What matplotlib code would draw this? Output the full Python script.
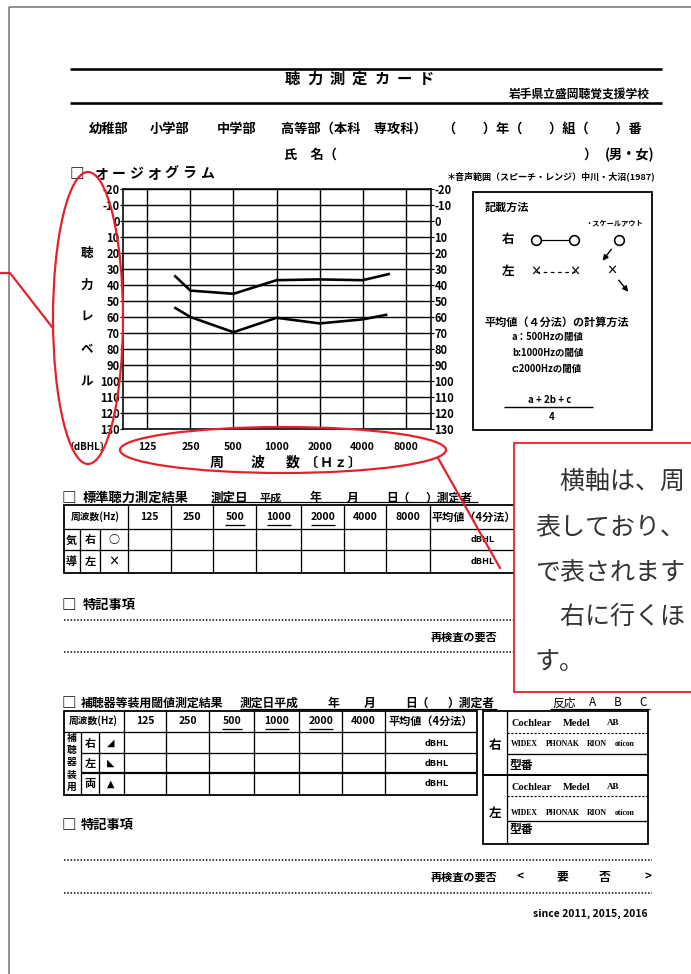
import matplotlib
matplotlib.use('Agg')
import matplotlib.pyplot as plt
from matplotlib.patches import Ellipse, Rectangle
from matplotlib.ticker import NullLocator

plt.rcParams['font.family'] = ['Noto Sans CJK JP', 'DejaVu Sans']

# audiogram data
freq_ticks = [125, 250, 500, 1000, 2000, 4000, 8000]
freq_labels = ['125', '250', '500', '1000', '2000', '4000', '8000']
db_ticks = list(range(-20, 131, 10))
db_labels = [str(v) for v in db_ticks]

# speech range (中川・大沼 1987)
upper_freq = [193, 250, 500, 1000, 2000, 4000, 6200]
upper_db = [34, 43.5, 45.5, 37, 36.5, 37, 33]
lower_freq = [193, 250, 500, 1000, 2000, 4000, 5950]
lower_db = [54, 60, 69.5, 60.5, 64, 61.5, 58.5]

# table headings
table1_freqs = ['125', '250', '500', '1000', '2000', '4000', '8000']
table2_freqs = ['125', '250', '500', '1000', '2000', '4000']
underlined = ['500', '1000', '2000']
callout_lines = ['\u3000横軸は、周', '表しており、', 'で表されます', '\u3000右に行くほ', 'す。']

W, H = 691, 974
fig = plt.figure(figsize=(W / 100, H / 100), dpi=100)
fig.patch.set_facecolor('white')


def lw(p):
    return p * 0.72


# ---- audiogram
ax = fig.add_axes([123 / W, 1 - 429 / H, 308 / W, 240 / H])
ax.set_xscale('log', base=2)
ax.set_xlim(84.5, 12010)
ax.set_ylim(130, -20)
ax.set_xticks(freq_ticks, freq_labels)
ax.xaxis.set_minor_locator(NullLocator())
ax.set_yticks(db_ticks, db_labels)
ax.grid(True, color='k', lw=lw(1.4))
for s in ax.spines.values():
    s.set_linewidth(lw(1.6))
ax.tick_params(axis='x', length=0, pad=9, labelsize=7.5)
ax.tick_params(axis='y', left=True, right=True, labelleft=True, labelright=True,
               length=2, width=lw(1.2), pad=0.5, labelsize=8)
for t in ax.get_xticklabels() + ax.get_yticklabels():
    t.set_fontweight('bold')
ax.plot(upper_freq, upper_db, color='k', lw=lw(2.6), solid_capstyle='butt')
ax.plot(lower_freq, lower_db, color='k', lw=lw(2.6), solid_capstyle='butt')

# ---- form overlay in pixel coordinates
ov = fig.add_axes([0, 0, 1, 1])
ov.set_xlim(0, W)
ov.set_ylim(H, 0)
ov.axis('off')


def txt(x, y, s, size=9, weight='bold', ha='left', va='center', **kw):
    ov.text(x, y, s, fontsize=size, fontweight=weight, ha=ha, va=va, **kw)


def spaced(x0, y, s, pitch, size, weight='bold'):
    for i, ch in enumerate(s):
        ov.text(x0 + i * pitch, y, ch, fontsize=size, fontweight=weight,
                ha='center', va='center')


def hline(y, x0, x1, w=1.3, color='k', **kw):
    ov.plot([x0, x1], [y, y], color=color, lw=lw(w), solid_capstyle='butt', **kw)


def vline(x, y0, y1, w=1.3, color='k', **kw):
    ov.plot([x, x], [y0, y1], color=color, lw=lw(w), solid_capstyle='butt', **kw)


# page border
hline(7, 9, W, w=1.6, color='#777777')
vline(9.5, 7, H, w=1.6, color='#777777')

# header
hline(69, 70, 662, w=2.6)
spaced(292, 79, '聴力測定カード', 22.5, 11)
txt(650, 94, '岩手県立盛岡聴覚支援学校', size=8.5, ha='right')
hline(103, 70, 662, w=2.6)

txt(89, 129, '幼稚部', 9.5)
txt(150, 129, '小学部', 9.5)
txt(217, 129, '中学部', 9.5)
txt(281, 129, '高等部（本科\u3000専攻科）', 9.5)
txt(443, 129, '（\u3000\u3000）年（\u3000\u3000）組（\u3000\u3000）番', 9.5)
txt(284, 155, '氏\u3000名（', 9.5)
txt(583, 155, '）', 9.5)
txt(655, 155, '(男・女)', 9.5, ha='right')

txt(70, 174, '□', 10.5)
spaced(101, 174, 'オージオグラム', 17.7, 10)
txt(655, 176, '＊音声範囲（スピーチ・レンジ）中川・大沼(1987)', 6.5, ha='right')

# audiogram side labels
for ch, y in zip('聴力レベル', [253, 285, 317, 350, 382]):
    txt(87, y, ch, 9, ha='center')
txt(87, 447, '〔dBHL〕', 7, ha='center')
txt(217, 463, '周', 10, ha='center')
txt(258, 463, '波', 10, ha='center')
txt(293, 463, '数', 10, ha='center')
spaced(312, 463, '〔Ｈｚ〕', 14, 9.5)

# legend box
ov.add_patch(Rectangle((473, 192), 179, 238, fill=False, ec='k', lw=lw(1.8)))
txt(485, 207, '記載方法', 8)
txt(585, 224, '・スケールアウト', 5.2)
txt(508, 240, '右', 9, ha='center')
ov.plot([536, 574], [240, 240], color='k', lw=lw(1.2), marker='o', ms=7, mfc='white', mew=lw(1.6))
ov.plot([619], [240], marker='o', ms=7, mfc='white', mec='k', mew=lw(1.6))
ov.annotate('', xy=(601, 263), xytext=(613, 247),
            arrowprops=dict(arrowstyle='-|>', color='k', lw=lw(1.4), mutation_scale=8))
txt(508, 272, '左', 9, ha='center')
ov.plot([536, 575], [272, 272], color='k', lw=lw(1.2), ls=(0, (3, 3)))
txt(536, 272, '×', 8, ha='center')
txt(575, 272, '×', 8, ha='center')
txt(612, 271, '×', 8, ha='center')
ov.annotate('', xy=(630, 294), xytext=(617, 278),
            arrowprops=dict(arrowstyle='-|>', color='k', lw=lw(1.4), mutation_scale=8))
txt(485, 322, '平均値（４分法）の計算方法', 8)
txt(512, 337, 'a：500Hzの閾値', 6.8)
txt(512, 353, 'b:1000Hzの閾値', 6.8)
txt(512, 369, 'c:2000Hzの閾値', 6.8)
txt(550, 400, 'a + 2b + c', 7, ha='center')
hline(407, 504, 593, w=1.4)
txt(552, 417, '4', 7, ha='center')

# ---- 標準聴力測定結果
txt(62, 498, '□', 10.5)
txt(83, 498, '標準聴力測定結果', 9.5)
txt(211, 498, '測定日', 9)
txt(260, 498, '平成', 8)
txt(315, 498, '年', 8.5, ha='center')
txt(353, 498, '月', 8.5, ha='center')
txt(386, 498, '日（', 8.5)
txt(425, 498, '）測定者', 8.5)
hline(502, 211, 478, w=1.2)

cols1 = [63.7, 127.8, 170.6, 213.5, 256.3, 301.2, 344, 386, 429.8, 540]
rows1 = [505, 529, 550, 573]
ov.add_patch(Rectangle((cols1[0], rows1[0]), cols1[-1] - cols1[0], rows1[-1] - rows1[0],
                       fill=False, ec='k', lw=lw(1.8)))
for y in rows1[1:-1]:
    hline(y, cols1[0], cols1[-1])
for x in cols1[1:-1]:
    vline(x, rows1[0], rows1[-1])
vline(79.6, rows1[1], rows1[-1])
vline(100.4, rows1[1], rows1[-1])
txt(95.7, 517, '周波数(Hz)', 7, ha='center')
for i, f in enumerate(table1_freqs):
    cx = (cols1[i + 1] + cols1[i + 2]) / 2
    txt(cx, 517, f, 7.5, ha='center')
    if f in underlined:
        hline(525, cx - 10 - 2 * (len(f) - 3), cx + 10 + 2 * (len(f) - 3), w=1.3)
txt(432, 517, '平均値（4分法）', 8)
txt(71, 540, '気', 8, ha='center')
txt(90, 540, '右', 8, ha='center')
txt(114, 540, '○', 8, ha='center')
txt(71, 562, '導', 8, ha='center')
txt(90, 562, '左', 8, ha='center')
txt(114, 562, '×', 8, ha='center')
txt(483, 540, 'dBHL', 6.5, ha='center')
txt(483, 562, 'dBHL', 6.5, ha='center')

txt(62, 605, '□', 10.5)
txt(83, 605, '特記事項', 9.5)
hline(620, 64, 660, w=1.5, ls=(0, (1, 1.2)))
txt(497, 637, '再検査の要否', 8, ha='right')
hline(652, 64, 660, w=1.5, ls=(0, (1, 1.2)))

# ---- 補聴器等装用閾値測定結果
txt(62, 703, '□', 10.5)
txt(81, 703, '補聴器等装用閾値測定結果', 8.6)
txt(240, 703, '測定日平成', 8.5)
txt(333, 703, '年', 8.5, ha='center')
txt(370, 703, '月', 8.5, ha='center')
txt(405, 703, '日（', 8.5)
txt(447, 703, '）測定者', 8.5)
txt(552, 703, '反応', 8.5, weight='normal')
for ch, x in zip('ABC', [593, 618, 643]):
    txt(x, 703, ch, 8.5, weight='normal', ha='center')
hline(709, 240, 497, w=1.2)
hline(709, 550, 650, w=1.2)

cols2 = [63.7, 123.7, 166.5, 209.4, 254.3, 299.2, 342, 385, 477]
rows2 = [711, 732, 753, 773, 795]
ov.add_patch(Rectangle((cols2[0], rows2[0]), cols2[-1] - cols2[0], rows2[-1] - rows2[0],
                       fill=False, ec='k', lw=lw(1.8)))
hline(rows2[1], cols2[0], cols2[-1])
hline(rows2[2], 80.8, cols2[-1])
hline(rows2[3], 80.8, cols2[-1], w=2.2)
for x in cols2[1:-1]:
    vline(x, rows2[0], rows2[-1])
vline(80.8, rows2[1], rows2[-1])
vline(99, rows2[1], rows2[-1])
txt(93.7, 721, '周波数(Hz)', 7, ha='center')
for i, f in enumerate(table2_freqs):
    cx = (cols2[i + 1] + cols2[i + 2]) / 2 if i < 5 else (cols2[6] + cols2[7]) / 2
    txt(cx, 721, f, 7.5, ha='center')
    if f in underlined:
        hline(729, cx - 10 - 2 * (len(f) - 3), cx + 10 + 2 * (len(f) - 3), w=1.3)
txt(431, 721, '平均値（4分法）', 8, ha='center')
for i, ch in enumerate('補聴器装用'):
    txt(72, 738 + i * 12.2, ch, 7, ha='center')
for ch, sym, y in zip('右左両', ['◢', '◣', '▲'], [743, 763, 784]):
    txt(90, y, ch, 8, ha='center')
    ov.text(111, y, sym, fontsize=7, ha='center', va='center', family='DejaVu Sans')
    txt(437, y, 'dBHL', 6.5, ha='center')

# hearing-aid maker box
ov.add_patch(Rectangle((483, 711), 165, 133, fill=False, ec='k', lw=lw(1.8)))
vline(507, 711, 844)
hline(733, 507, 648, w=1.1, ls=(0, (2, 1.5)))
hline(754, 507, 648)
hline(775, 483, 648, w=2.0)
hline(796, 507, 648, w=1.1, ls=(0, (2, 1.5)))
hline(821, 507, 648)
txt(495, 745, '右', 9, ha='center')
txt(495, 813, '左', 9, ha='center')
serif = ['Liberation Serif', 'DejaVu Serif']
for y in [723, 787]:
    ov.text(512, y, 'Cochlear', fontsize=7.5, fontweight='bold', family=serif, va='center')
    ov.text(563, y, 'Medel', fontsize=7.5, fontweight='bold', family=serif, va='center')
    ov.text(607, y, 'AB', fontsize=6.5, fontweight='bold', family=serif, va='center')
for y in [744, 813]:
    for s, x in zip(['WIDEX', 'PHONAK', 'RION', 'oticon'], [511, 546, 587, 615]):
        ov.text(x, y, s, fontsize=5.6, fontweight='bold', family=serif, va='center')
txt(510, 765, '型番', 8.5)
txt(510, 830, '型番', 8.5)

txt(62, 825, '□', 10.5)
txt(81, 825, '特記事項', 9.5)
hline(860, 64, 652, w=1.5, ls=(0, (1, 1.2)))
txt(497, 877, '再検査の要否', 8, ha='right')
for s, x in zip(['<', '要', '否', '>'], [520, 562, 605, 648]):
    txt(x, 877, s, 8.5, ha='center')
hline(893, 64, 652, w=1.5, ls=(0, (1, 1.2)))
txt(648, 914, 'since 2011, 2015, 2016', 7.5, ha='right')

# ---- red annotations
red = '#e4202a'
ov.add_patch(Ellipse((88, 318), 70, 292, fill=False, ec=red, lw=lw(2.2), zorder=6))
ov.add_patch(Ellipse((283, 450), 326, 46, fill=False, ec=red, lw=lw(2.2), zorder=6))
ov.plot([0, 10, 52], [273, 273, 327], color=red, lw=lw(2.2), zorder=6)
ov.plot([438, 500], [458, 568], color=red, lw=lw(2.2), zorder=6)
ov.add_patch(Rectangle((514, 443), 200, 249, fc='white', ec=red, lw=lw(1.8), zorder=7))
for i, line in enumerate(callout_lines):
    ov.text(535, 482 + i * 45, line, fontsize=18, color='#333333', va='center',
            ha='left', zorder=8)

fig.savefig('out.png', dpi=100)
